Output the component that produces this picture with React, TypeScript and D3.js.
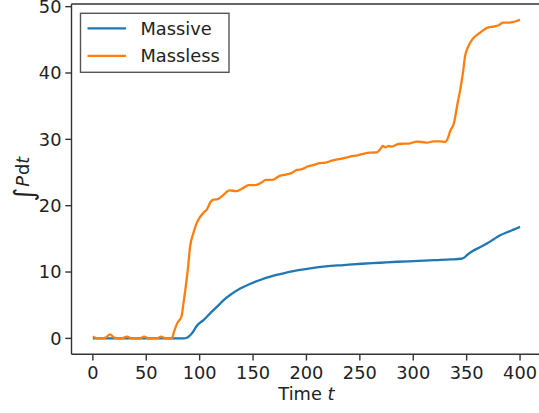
import React from "react";
import * as d3 from "d3";

const xTicks = [0, 50, 100, 150, 200, 250, 300, 350, 400];
const yTicks = [0, 10, 20, 30, 40, 50];

const massiveT = [0, 85, 88, 90, 92.7, 95, 97.4, 103.6, 110, 119, 122, 130, 138, 147, 156.6, 167, 178.5, 190, 203.5, 218, 234.6, 252, 269, 285, 300, 320, 335, 345, 348, 350, 356, 362, 369, 375, 381, 388, 394, 400];
const massiveY = [0, 0, 0.1, 0.3, 0.75, 1.3, 1.9, 2.75, 3.8, 5.2, 5.7, 6.7, 7.5, 8.2, 8.8, 9.35, 9.8, 10.2, 10.55, 10.85, 11.05, 11.25, 11.4, 11.55, 11.65, 11.8, 11.9, 12.0, 12.2, 12.5, 13.2, 13.7, 14.3, 14.9, 15.5, 16.0, 16.4, 16.8];

const masslessT = [0, 3, 8, 12, 16, 20, 24, 28, 32, 36, 44, 48, 52, 60, 64, 68, 74, 76, 79, 83, 85, 87, 89, 91, 94, 97, 100, 104, 107, 110, 113, 117, 122, 128, 134, 140, 146, 152, 158, 162, 168, 175, 181, 186, 191, 196, 201, 206, 212, 218, 224, 230, 236, 241, 248, 255, 261, 266, 269, 271.5, 274, 277, 280, 286, 292, 297, 303, 308, 313, 319, 325, 330, 332, 334.5, 338.5, 341, 344, 346.5, 348.5, 351.5, 356, 362, 366, 369, 375, 380, 384, 390, 394, 397, 400];
const masslessY = [0.3, 0.05, 0.0, 0.1, 0.6, 0.1, 0.0, 0.05, 0.25, 0.0, 0.0, 0.25, 0.0, 0.0, 0.25, 0.0, 0.0, 1.0, 2.3, 3.3, 5.5, 7.8, 10.5, 13.8, 15.8, 17.3, 18.2, 19.0, 19.5, 20.5, 20.9, 21.0, 21.6, 22.3, 22.2, 22.6, 23.1, 23.1, 23.5, 23.9, 23.9, 24.5, 24.7, 24.9, 25.4, 25.5, 25.9, 26.1, 26.4, 26.5, 26.8, 27.0, 27.2, 27.4, 27.6, 27.9, 28.0, 28.05, 28.5, 29.0, 28.8, 29.0, 28.9, 29.3, 29.35, 29.4, 29.65, 29.6, 29.5, 29.7, 29.7, 29.6, 30.0, 31.2, 32.7, 35.0, 37.5, 40.0, 42.5, 44.0, 45.2, 46.0, 46.5, 46.8, 47.0, 47.2, 47.6, 47.6, 47.7, 47.85, 48.0];

const seriesNames = ["Massive", "Massless"];
const colors = ["#1f77b4", "#ff7f0e"];

const W = 539, H = 413;
const left = 71.5, right = 541.4, top = 4, bottom = 354.3;
const font = "DejaVu Sans";
const fs = 17.8;

export default function App() {
  const x = d3.scaleLinear().domain([-20, 420]).range([left, right]);
  const y = d3.scaleLinear().domain([-2.4, 50.4]).range([bottom, top]);
  const line = d3.line<[number, number]>().x(d => x(d[0])).y(d => y(d[1])).curve(d3.curveMonotoneX);
  const massive = massiveT.map((t, i) => [t, massiveY[i]] as [number, number]);
  const massless = masslessT.map((t, i) => [t, masslessY[i]] as [number, number]);
  const spine = "#333";
  return (
    <svg width={W} height={H} style={{ position: "absolute", left: 0, top: 0, background: "#fff" }} fontFamily={font}>
      <rect x={0} y={0} width={W} height={H} fill="#fff" />
      <path d={line(massive) || ""} fill="none" stroke={colors[0]} strokeWidth={2.3} />
      <path d={line(massless) || ""} fill="none" stroke={colors[1]} strokeWidth={2.3} />
      <line x1={left} x2={left} y1={top} y2={bottom} stroke={spine} strokeWidth={1.4} />
      <line x1={left} x2={right} y1={bottom} y2={bottom} stroke={spine} strokeWidth={1.4} />
      <line x1={left} x2={right} y1={top} y2={top} stroke={spine} strokeWidth={1.4} />
      <line x1={right} x2={right} y1={top} y2={bottom} stroke={spine} strokeWidth={1.4} />
      {xTicks.map(t => (
        <g key={"x" + t}>
          <line x1={x(t)} x2={x(t)} y1={bottom} y2={bottom + 6.2} stroke={spine} strokeWidth={1.4} />
          <text x={x(t)} y={378.5} textAnchor="middle" fontSize={fs} fill="#222">{t}</text>
        </g>
      ))}
      {yTicks.map(t => (
        <g key={"y" + t}>
          <line x1={left - 6.2} x2={left} y1={y(t)} y2={y(t)} stroke={spine} strokeWidth={1.4} />
          <text x={61.5} y={y(t)} dy="0.36em" textAnchor="end" fontSize={fs} fill="#222">{t}</text>
        </g>
      ))}
      <text x={(left + right) / 2} y={400} textAnchor="middle" fontSize={fs} fill="#222">
        Time <tspan fontStyle="italic">t</tspan>
      </text>
      <text transform={`translate(28.5,${(top + bottom) / 2}) rotate(-90)`} textAnchor="middle" fontSize={fs} fill="#222">
        <tspan fontSize={fs * 1.5} dy="4">∫</tspan>
        <tspan fontStyle="italic" dy="-4" dx="1">P</tspan>
        <tspan dx="1">d</tspan>
        <tspan fontStyle="italic">t</tspan>
      </text>
      <rect x={80.5} y={13.3} width={148.5} height={59} fill="#fff" stroke="#555" strokeWidth={1.4} />
      {seriesNames.map((n, i) => (
        <g key={n}>
          <line x1={87.5} x2={126} y1={28.3 + i * 27.5} y2={28.3 + i * 27.5} stroke={colors[i]} strokeWidth={2.3} />
          <text x={140.5} y={28.3 + i * 27.5} dy="0.36em" fontSize={fs} fill="#222">{n}</text>
        </g>
      ))}
    </svg>
  );
}
